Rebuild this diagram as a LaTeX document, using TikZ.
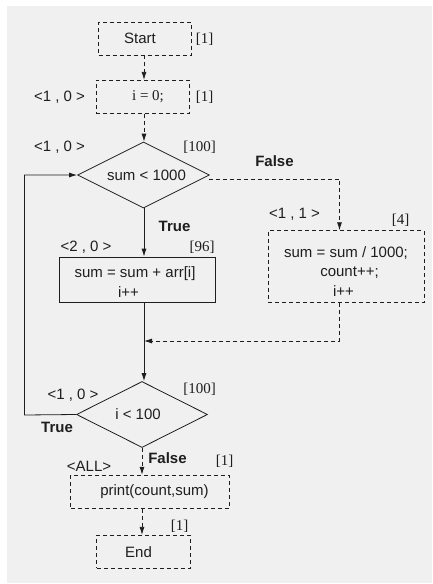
\documentclass[tikz,border=0pt]{standalone}
\usepackage{fontspec}
\setmainfont{Liberation Sans}
\newfontfamily\tnr{Liberation Serif}
\usetikzlibrary{shapes.geometric,arrows.meta}
\definecolor{bg}{HTML}{F0F0F0}
\definecolor{ink}{HTML}{1E1E1E}
\begin{document}
\begin{tikzpicture}[x=1pt,y=-1pt,
  every node/.style={font=\fontsize{15}{19.5}\selectfont, text=ink, inner sep=0pt},
  box/.style={draw=ink, line width=0.8pt, rectangle, align=center},
  dbox/.style={box, dash pattern=on 4pt off 3pt},
  dec/.style={draw=ink, line width=0.8pt, diamond, shape aspect=2, inner sep=0pt},
  cnt/.style={font=\tnr\fontsize{15}{19.5}\selectfont},
  bld/.style={font=\bfseries\fontsize{15}{19.5}\selectfont},
  conn/.style={draw=ink, line width=0.8pt, -{Latex[length=8pt,width=5pt]}},
  dconn/.style={conn, dash pattern=on 4pt off 3pt}
]
\useasboundingbox (0,0) rectangle (433,584);
\fill[bg] (7,6) rectangle (432,583);

% nodes
\node[dbox, minimum width=93, minimum height=32.5] (start) at (145,38.8) {\hspace*{-10pt}Start};
\node[dbox, minimum width=93.5, minimum height=33] (init) at (143,96.8) {\hspace*{10pt}{\tnr i = 0;}};
\node[dec, minimum width=132, minimum height=66] (d1) at (143.5,175) {\hspace*{6pt}sum < 1000};
\node[box, minimum width=156, minimum height=45] (b1) at (137.5,279.5) {\rule{0pt}{16pt}\hspace*{-5pt}sum = sum + arr[i]\\\hspace*{-18pt}i++};
\node[dbox, minimum width=156, minimum height=72] (b2) at (346,266.7) {\rule{0pt}{20pt}sum = sum / 1000;\\\hspace*{7pt}count++;\\\hspace*{-5pt}i++};
\node[dec, minimum width=131, minimum height=66] (d2) at (142,414.5) {\hspace*{-8pt}i < 100};
\node[dbox, minimum width=158.5, minimum height=33] (pr) at (150,491.7) {\hspace*{9pt}print(count,sum)};
\node[dbox, minimum width=93.5, minimum height=33] (end) at (143.5,551.8) {\hspace*{-10pt}End};

% annotations
\node[cnt] (l1) at (204.5,39) {[1]};
\node (c2) at (59.5,97) {<1 , 0 >};
\node[cnt] (l2) at (204.5,97) {[1]};
\node (c3) at (59.5,147.5) {<1 , 0 >};
\node[cnt] (l3) at (199.5,147) {[100]};
\node[bld] (f1) at (274.5,160.7) {False};
\node[bld] (t1) at (174.5,226) {True};
\node (c4) at (86,247.3) {<2 , 0 >};
\node[cnt] (l4) at (202,247) {[96]};
\node (c5) at (294.5,214) {<1 , 1 >};
\node[cnt] (l5) at (400.5,220) {[4]};
\node (c6) at (73,395) {<1 , 0 >};
\node[cnt] (l6) at (199.5,389) {[100]};
\node[bld] (t2) at (57,427) {True};
\node[bld] (f2) at (167.5,458) {False};
\node[cnt] (l7) at (224.5,461.7) {[1]};
\node (c7) at (89,466.7) {<ALL>};
\node[cnt] (l8) at (179.5,526.7) {[1]};

% helper coordinates
\coordinate (colA) at (144,0);
\coordinate (m) at (144,341);
\coordinate (lp) at (24.5,415);
\coordinate (fr) at (339.5,179);

% connectors
\draw[dconn] (start.south -| colA) -- (init.north -| colA);
\draw[dconn] (init.south -| colA) -- (d1.north -| colA);
\draw[conn] (d1.south -| colA) -- (b1.north -| colA);
\draw[conn] (b1.south -| colA) -- (d2.north -| colA);
\draw[dconn, shorten <=-1pt] (d1.east |- fr) -- (fr) -- (fr |- b2.north);
\draw[dconn] (fr |- b2.south) -- (fr |- m) -- (m);
\draw[conn] (d2.west) -- (lp) -- (lp |- d1.west) -- (d1.west);
\draw[dconn] (d2.south) -- (d2.south |- pr.north);
\draw[dconn] (d2.south |- pr.south) -- (d2.south |- end.north);
\end{tikzpicture}
\end{document}
